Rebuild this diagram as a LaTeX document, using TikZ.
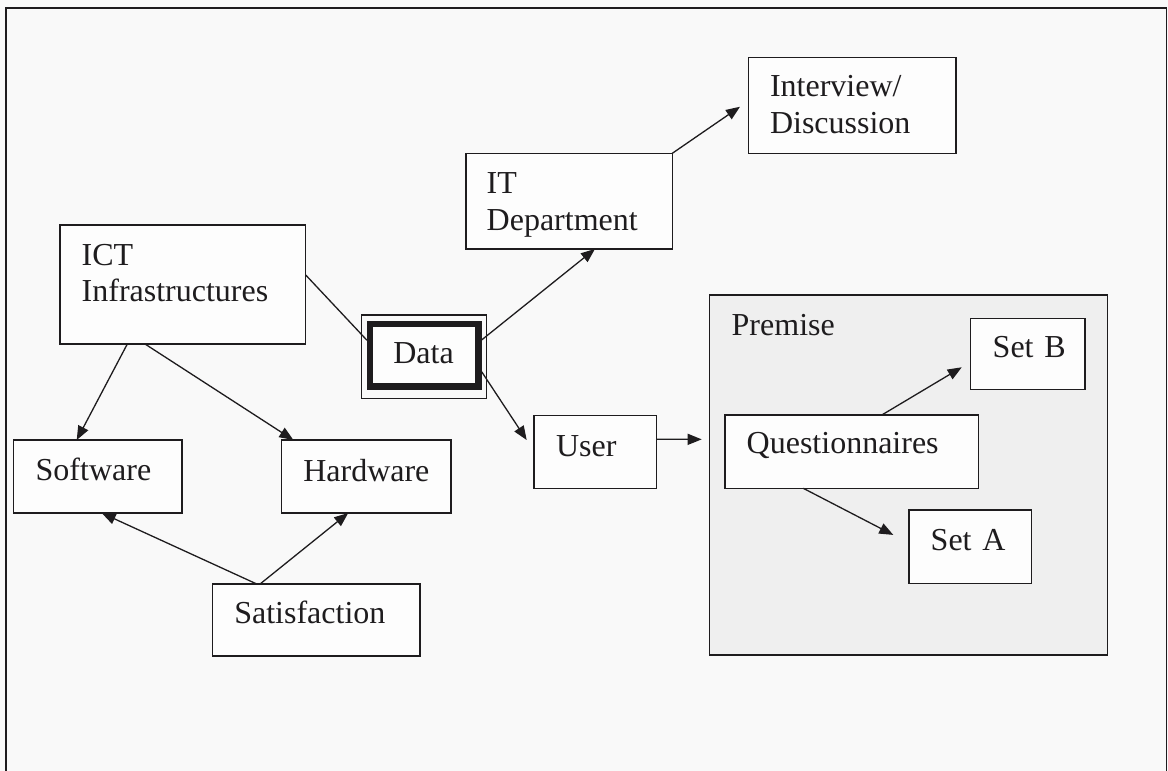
\documentclass[tikz,border=0pt]{standalone}
\usepackage{fontspec}
\setmainfont{Liberation Serif}
\usetikzlibrary{arrows.meta,calc}
\hyphenpenalty=10000
\exhyphenpenalty=10000
\definecolor{ink}{RGB}{30,28,30}
\definecolor{bg}{RGB}{249,249,249}
\definecolor{premfill}{RGB}{239,239,239}
\definecolor{boxfill}{RGB}{253,253,253}
\tikzset{
  bx/.style={draw=ink, line width=1.3pt, fill=boxfill, anchor=north west, align=left,
    inner ysep=0pt, outer sep=0pt, text=ink, font=\fontsize{32}{36.7}\selectfont},
  arr/.style={draw=ink, line width=1.3pt, -{Triangle[length=14pt,width=11pt]}},
  plain/.style={draw=ink, line width=1.3pt},
}
\begin{document}
\begin{tikzpicture}[x=1pt,y=-1pt]
\fill[bg] (0,0) rectangle (1168,771);
\useasboundingbox (0,0) rectangle (1168,771);
\draw[plain] (6,772) -- (6,8) -- (1166.5,8) -- (1166.5,772);

% premise group box
\node[bx, fill=premfill, inner xsep=22.4pt, text width=353.2pt, minimum width=398pt,
  text height=40pt, text depth=320pt] (premise) at (709.3,295) {Premise};

% nodes
\node[bx, inner xsep=21.7pt, text width=202.3pt, minimum width=245.7pt,
  text height=40pt, text depth=79pt] (ict) at (60,225) {ICT\\Infrastructures};
\node[bx, inner xsep=22.4pt, text width=123.9pt, minimum width=168.7pt,
  text height=40.7pt, text depth=32.3pt] (soft) at (13.3,440) {Software};
\node[bx, inner xsep=21.6pt, text width=126.1pt, minimum width=169.3pt,
  text height=41pt, text depth=32pt] (hard) at (281.7,440) {Hardware};
\node[bx, inner xsep=22pt, text width=163.7pt, minimum width=207.7pt,
  text height=39.3pt, text depth=32.7pt] (sat) at (212.3,584) {Satisfaction};
\node[bx, line width=6.5pt, inner xsep=23.3pt, text width=61.7pt, minimum width=108.3pt,
  text height=39.3pt, text depth=23.4pt] (data) at (370,324) {Data};
\draw[plain] ($(data.north west)+(-8.3pt,9pt)$) rectangle ($(data.south east)+(8.4pt,-11.6pt)$);
\node[bx, inner xsep=20.7pt, text width=164.9pt, minimum width=206.3pt,
  text height=40pt, text depth=55.7pt] (itd) at (466,153.3) {IT\\Department};
\node[bx, inner xsep=21.7pt, text width=164.3pt, minimum width=207.7pt,
  text height=39.4pt, text depth=56.6pt] (intv) at (748.3,57.3) {Interview/\\Discussion};
\node[bx, inner xsep=22pt, text width=78.7pt, minimum width=122.7pt,
  text height=41pt, text depth=31.6pt] (user) at (534,415.7) {User};
\node[bx, inner xsep=22pt, text width=70.3pt, minimum width=114.3pt,
  text height=39pt, text depth=32pt] (setb) at (970.7,318.3) {Set~B};
\node[bx, inner xsep=21.7pt, text width=209.9pt, minimum width=253.3pt,
  text height=38.3pt, text depth=35pt] (quest) at (725,415) {Questionnaires};
\node[bx, inner xsep=21.7pt, text width=79.3pt, minimum width=122.7pt,
  text height=40.7pt, text depth=32.6pt] (seta) at (909,510) {Set~A};

% connectors
\draw[plain] ($(ict.north east)!0.42!(ict.south east)$) -- ($(data.north west)!0.26!(data.south west)+(-3pt,0)$);
\draw[arr] ($(ict.south west)!0.274!(ict.south east)$) -- ($(soft.north west)!0.376!(soft.north east)$);
\draw[arr] ($(ict.south west)!0.346!(ict.south east)$) -- ($(hard.north west)!0.069!(hard.north east)$);
\draw[arr] ($(sat.north west)!0.214!(sat.north east)$) -- ($(soft.south west)!0.524!(soft.south east)$);
\draw[arr] ($(sat.north west)!0.23!(sat.north east)$) -- ($(hard.south west)!0.393!(hard.south east)$);
\draw[arr] ($(data.north east)!0.255!(data.south east)+(3.3pt,0)$) -- ($(itd.south west)!0.625!(itd.south east)$);
\draw[arr] ($(data.north east)!0.76!(data.south east)+(3.3pt,0)$) -- ($(user.north west)!0.335!(user.south west)+(-7.3pt,0)$);
\draw[arr] (itd.north east) -- ($(intv.north west)!0.515!(intv.south west)+(-8.3pt,0)$);
\draw[arr] ($(user.north east)!0.325!(user.south east)$) -- ($(premise.north west)!0.401!(premise.south west)+(-7.6pt,0)$);
\draw[arr] ($(quest.north west)!0.619!(quest.north east)$) -- ($(setb.north west)!0.69!(setb.south west)+(-9pt,0)$);
\draw[arr] ($(quest.south west)!0.309!(quest.south east)$) -- ($(seta.north west)!0.34!(seta.south west)+(-15.7pt,0)$);
\end{tikzpicture}
\end{document}
